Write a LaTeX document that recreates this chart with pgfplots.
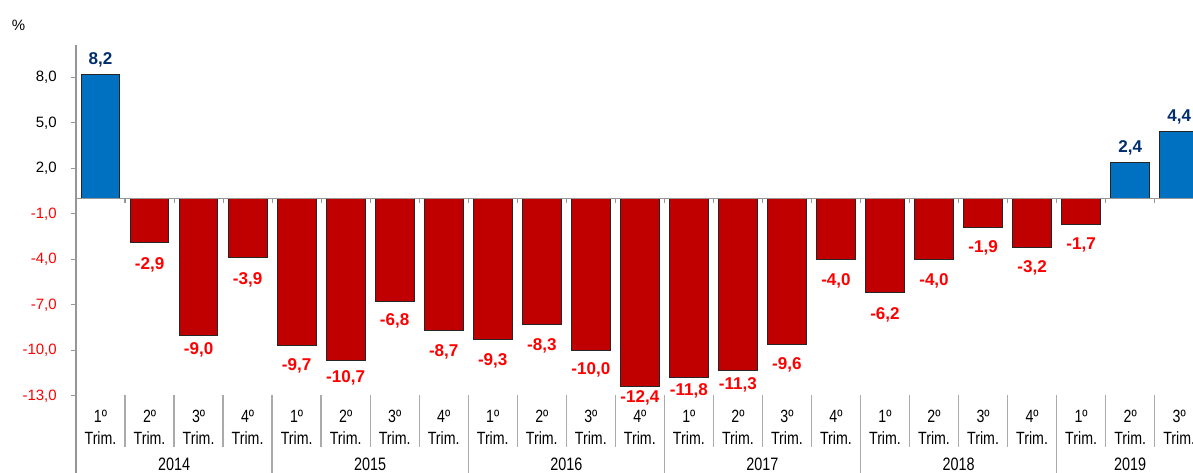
\documentclass[border=0pt]{standalone}
\usepackage{fontspec}
\setmainfont{Liberation Sans}
\newfontfamily\narrowfont{Liberation Sans}[FakeStretch=0.8]
\usepackage{pgfplots}
\usepackage{pgfplotstable}
\pgfplotsset{compat=1.18}
\definecolor{barblue}{RGB}{0,112,192}
\definecolor{barred}{RGB}{192,0,0}
\definecolor{labblue}{RGB}{0,45,110}
\definecolor{labred}{RGB}{255,0,0}
\definecolor{axgray}{RGB}{150,150,150}
\definecolor{sepgray}{RGB}{170,170,170}
\pgfplotstableread{
x y off
0 8.2 7.5
21 2.4 7.5
22 4.4 7.5
}\pos
\pgfplotstableread{
x y off
1 -2.9 20
2 -9.0 14.5
3 -3.9 20
4 -9.7 18.5
5 -10.7 16.5
6 -6.8 18
7 -8.7 19.5
8 -9.3 19.5
9 -8.3 19.5
10 -10.0 18.5
11 -12.4 11.8
12 -11.8 13.3
13 -11.3 14.8
14 -9.6 19.3
15 -4.0 20
16 -6.2 20
17 -4.0 20
18 -1.9 18.5
19 -3.2 19
20 -1.7 19
}\neg
\begin{document}
\begin{tikzpicture}
\useasboundingbox (0,0) rectangle (894.75pt,354.75pt);
\begin{axis}[
  at={(57pt,0pt)}, anchor=south west,
  scale only axis, width=837.75pt, height=321pt,
  xmin=-0.5, xmax=22.282, ymin=-18.09, ymax=10.125,
  clip mode=individual,
  axis lines*=left, axis line style={-},
  x axis line style={draw=none},
  y axis line style={draw=axgray, line width=0.8pt},
  ytick={-13,-10,-7,-4,-1,2,5,8},
  yticklabels={},
  ytick style={draw=axgray, line width=0.8pt},
  tick align=outside, major tick length=3.5pt,
  xtick={0,...,22},
  xtick style={draw=none},
  xticklabels={{1º\\Trim.},{2º\\Trim.},{3º\\Trim.},{4º\\Trim.},
               {1º\\Trim.},{2º\\Trim.},{3º\\Trim.},{4º\\Trim.},
               {1º\\Trim.},{2º\\Trim.},{3º\\Trim.},{4º\\Trim.},
               {1º\\Trim.},{2º\\Trim.},{3º\\Trim.},{4º\\Trim.},
               {1º\\Trim.},{2º\\Trim.},{3º\\Trim.},{4º\\Trim.},
               {1º\\Trim.},{2º\\Trim.},{3º\\Trim.}},
  xticklabel style={font=\narrowfont\fontsize{13.3}{16.2}\selectfont, align=center, anchor=north, inner sep=0pt, yshift=50.8pt},
  /pgf/number format/.cd, fixed, fixed zerofill, precision=1, use comma, assume math mode=true,
]
\addplot[ybar, bar width=0.79, bar shift=0pt, fill=barblue, draw=black!85, line width=0.7pt,
  visualization depends on={\thisrow{off} \as \off},
  nodes near coords, nodes near coords align={center},
  every node near coord/.append style={anchor=base, yshift=\off pt, inner sep=0pt, text=labblue, font=\bfseries\fontsize{12.8}{14}\selectfont}]
  table[x=x, y=y] {\pos};
\addplot[ybar, bar width=0.79, bar shift=0pt, fill=barred, draw=black!85, line width=0.7pt,
  visualization depends on={\thisrow{off} \as \off},
  nodes near coords, nodes near coords align={center},
  every node near coord/.append style={anchor=base, yshift=-\off pt, inner sep=0pt, text=labred, font=\bfseries\fontsize{12.8}{14}\selectfont}]
  table[x=x, y=y] {\neg};
\draw[axgray, line width=0.8pt] (axis cs:-0.5,0) -- (axis cs:22.282,0);
\pgfplotsinvokeforeach{0,...,21}{\draw[axgray, line width=0.8pt] (axis cs:#1.5,0) -- ++(0pt,-3.5pt);}
\pgfplotsinvokeforeach{0,1,2,4,5,6,8,9,10,12,13,14,16,17,18,20,21}{\draw[sepgray, line width=1pt] (axis cs:#1.5,-12.95) -- (axis cs:#1.5,-16.38);}
\pgfplotsinvokeforeach{3,7,11,15,19}{\draw[sepgray, line width=1pt] (axis cs:#1.5,-12.95) -- (axis cs:#1.5,-18.09);}
\coordinate (ya) at (axis cs:-0.5,8);
\coordinate (yb) at (axis cs:-0.5,5);
\coordinate (yc) at (axis cs:-0.5,2);
\coordinate (yd) at (axis cs:-0.5,-1);
\coordinate (ye) at (axis cs:-0.5,-4);
\coordinate (yf) at (axis cs:-0.5,-7);
\coordinate (yg) at (axis cs:-0.5,-10);
\coordinate (yh) at (axis cs:-0.5,-13);
\node[font=\narrowfont\fontsize{13.5}{15}\selectfont, anchor=north, inner sep=0pt] at (axis cs:1.5,-17.1) {2014};
\node[font=\narrowfont\fontsize{13.5}{15}\selectfont, anchor=north, inner sep=0pt] at (axis cs:5.5,-17.1) {2015};
\node[font=\narrowfont\fontsize{13.5}{15}\selectfont, anchor=north, inner sep=0pt] at (axis cs:9.5,-17.1) {2016};
\node[font=\narrowfont\fontsize{13.5}{15}\selectfont, anchor=north, inner sep=0pt] at (axis cs:13.5,-17.1) {2017};
\node[font=\narrowfont\fontsize{13.5}{15}\selectfont, anchor=north, inner sep=0pt] at (axis cs:17.5,-17.1) {2018};
\node[font=\narrowfont\fontsize{13.5}{15}\selectfont, anchor=north, inner sep=0pt] at (axis cs:21,-17.1) {2019};
\end{axis}
\begin{scope}[every node/.style={anchor=east, inner sep=0pt, xshift=-14.25pt, font=\fontsize{11.25}{13}\selectfont}]
\node[text=black] at (ya) {8,0};
\node[text=black] at (yb) {5,0};
\node[text=black] at (yc) {2,0};
\node[text=labred] at (yd) {\textcolor{labred}{-1,0}};
\node[text=labred] at (ye) {\textcolor{labred}{-4,0}};
\node[text=labred] at (yf) {\textcolor{labred}{-7,0}};
\node[text=labred] at (yg) {\textcolor{labred}{-10,0}};
\node[text=labred] at (yh) {\textcolor{labred}{-13,0}};
\end{scope}
\node[font=\fontsize{11.25}{13}\selectfont] at (13.9pt,336pt) {\%};
\end{tikzpicture}
\end{document}
